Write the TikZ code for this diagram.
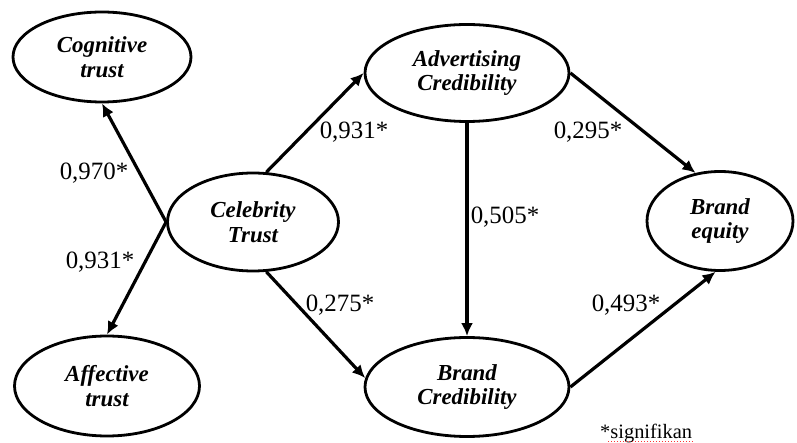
\documentclass[tikz,border=0pt]{standalone}
\usepackage{fontspec}
\setmainfont{Liberation Serif}
\usetikzlibrary{arrows.meta,shapes.geometric}

\begin{document}
\begin{tikzpicture}[
    x=1bp, y=-1bp, >={Latex[length=13bp,width=12bp]},
    lat/.style={ellipse, draw, line width=2.8bp, inner sep=0pt, align=center,
      font=\fontsize{23}{25}\selectfont\bfseries\itshape},
    arr/.style={->, draw, line width=3.2bp},
    coef/.style={inner sep=0pt, font=\fontsize{25}{28}\selectfont}]
    \useasboundingbox (0,0) rectangle (797,443);
    % latent constructs
    \node[lat, minimum width=178bp, minimum height=90bp] (cog) at (102,57) {Cognitive\\trust};
    \node[lat, minimum width=185bp, minimum height=100bp] (aff) at (107,386) {Affective\\trust};
    \node[lat, minimum width=171bp, minimum height=98bp] (celeb) at (253,222) {Celebrity\\Trust};
    \node[lat, minimum width=204bp, minimum height=97bp] (adv) at (467,73) {Advertising\\Credibility};
    \node[lat, minimum width=204bp, minimum height=99bp] (bcred) at (467,387) {Brand\\Credibility};
    \node[lat, minimum width=146bp, minimum height=99bp] (equity) at (720,221) {Brand\\equity};
    % paths
    \draw[arr] (celeb.west) -- (cog.south);
    \draw[arr] (celeb.west) -- (aff.north);
    \draw[arr] (celeb.75) -- (adv.west);
    \draw[arr] (celeb.-75) -- (bcred.175);
    \draw[arr] (adv.south) -- (bcred.north);
    \draw[arr] (adv.east) -- (equity.117);
    \draw[arr] (bcred.east) -- (equity.265);
    % coefficients
    \node[coef] (c970) at (94,173) {0,970*};
    \node[coef] (c931a) at (100,262) {0,931*};
    \node[coef] (c931b) at (354,132) {0,931*};
    \node[coef] (c275) at (340,305) {0,275*};
    \node[coef] (c505) at (505,217) {0,505*};
    \node[coef] (c295) at (588,132) {0,295*};
    \node[coef] (c493) at (626,305) {0,493*};
    \node[inner sep=0pt, anchor=base west, font=\fontsize{20.5}{24}\selectfont] (note) at (600,438) {*signifikan};
    \draw[red!80, dotted, line width=1bp] (note.base west) ++(8,3) -- ++(85,0);
\end{tikzpicture}
\end{document}
